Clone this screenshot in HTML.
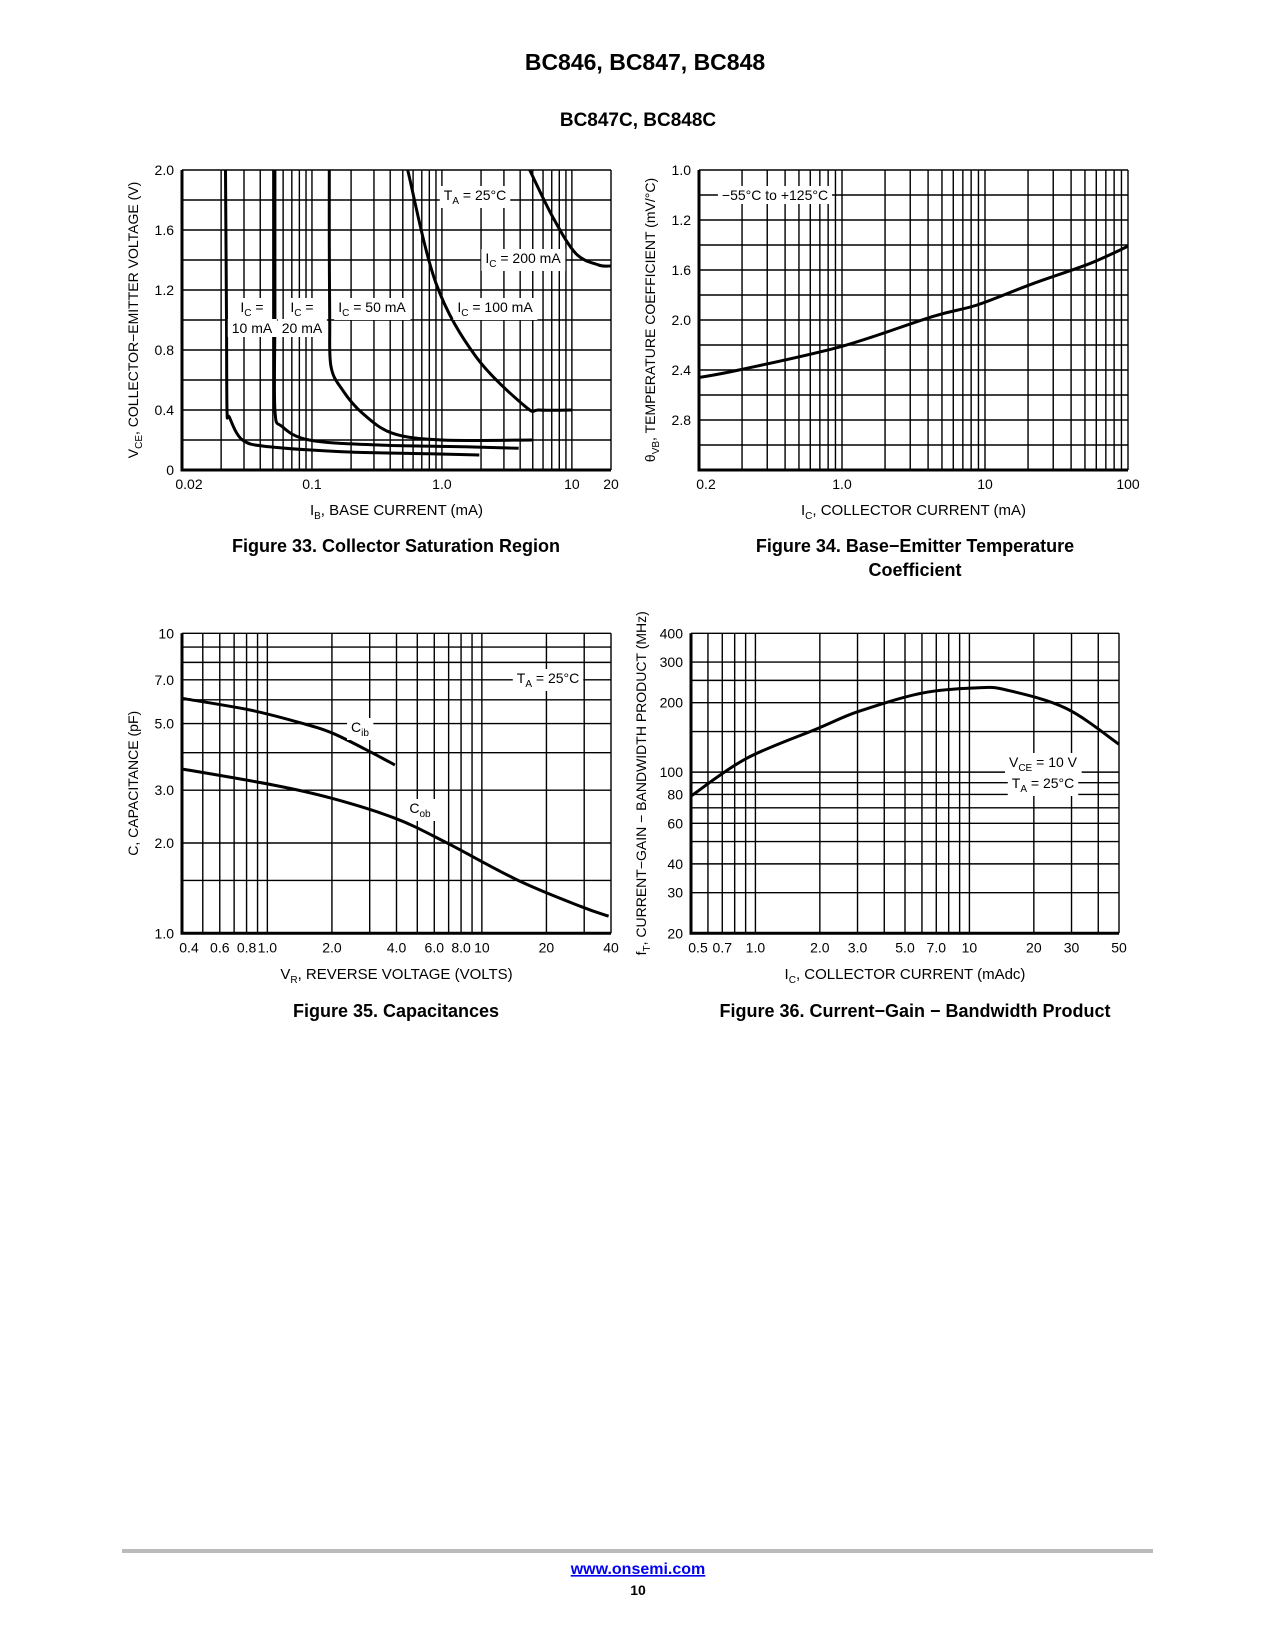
<!DOCTYPE html>
<html><head><meta charset="utf-8"><style>
html,body{margin:0;padding:0;background:#fff;}
svg{display:block;font-family:"Liberation Sans",sans-serif;}
.n{font-family:"Liberation Sans Narrow","Liberation Sans",sans-serif;}
</style></head><body>
<svg id="page" width="1275" height="1650" viewBox="0 0 1275 1650" xmlns="http://www.w3.org/2000/svg">
<text x="645" y="70" font-size="23" font-weight="bold" text-anchor="middle">BC846, BC847, BC848</text>
<text x="638" y="126" font-size="19" font-weight="bold" text-anchor="middle">BC847C, BC848C</text>
<text x="396" y="552" font-size="18" font-weight="bold" text-anchor="middle">Figure 33. Collector Saturation Region</text>
<text x="915" y="552" font-size="18" font-weight="bold" text-anchor="middle">Figure 34. Base−Emitter Temperature</text>
<text x="915" y="576" font-size="18" font-weight="bold" text-anchor="middle">Coefficient</text>
<text x="396" y="1017" font-size="18" font-weight="bold" text-anchor="middle">Figure 35. Capacitances</text>
<text x="915" y="1017" font-size="18" font-weight="bold" text-anchor="middle">Figure 36. Current−Gain − Bandwidth Product</text>
<rect x="122" y="1549" width="1031" height="4" fill="#bbb"/>
<a><text x="638" y="1574" font-size="16" font-weight="bold" fill="#0000ee" text-anchor="middle" text-decoration="underline">www.onsemi.com</text></a>
<text x="638" y="1595" font-size="14" font-weight="bold" text-anchor="middle">10</text>
</svg>
<script>
// ---------- Chart 1 data (IB mA vs VCE V) ----------
const c1_10x=[0.0216,0.0218,0.022,0.0222,0.0231,0.0292,0.047,0.171,0.8,1.94];
const c1_10y=[2.0,1.5,1.0,0.4,0.353,0.2,0.155,0.122,0.108,0.1];
const c1_20x=[0.0519,0.0519,0.0519,0.0519,0.059,0.095,0.31,1.5,3.9];
const c1_20y=[2.0,1.5,1.0,0.4,0.289,0.2,0.167,0.155,0.145];
const c1_50x=[0.136,0.136,0.137,0.14,0.172,0.245,0.417,1.0,4.93];
const c1_50y=[2.0,1.5,1.0,0.69,0.533,0.378,0.245,0.2,0.2];
const c1_100x=[0.545,0.9,1.83,4.4,5.6,10];
const c1_100y=[2.0,1.245,0.755,0.422,0.4,0.4];
const c1_200x=[4.74,7.1,10.7,16,20];
const c1_200y=[2.0,1.689,1.444,1.367,1.36];
const c1_xtickVals=[0.01,0.1,1,10,20];
const c1_xtickText=["0.02","0.1","1.0","10","20"];
const c1_ytickVals=[0,0.4,0.8,1.2,1.6,2.0];
const c1_ytickText=["0","0.4","0.8","1.2","1.6","2.0"];
// ---------- Chart 2 data ----------
const c2_x=[0.1,0.19,1.0,4.36,8.8,21.5,53.5,100];
const c2_y=[2.46,2.4,2.21,1.97,1.88,1.71,1.55,1.41];
const c2_xtickVals=[0.1,1,10,100];
const c2_xtickText=["0.2","1.0","10","100"];
const c2_ytickVals=[0.8,1.2,1.6,2.0,2.4,2.8];
const c2_ytickText=["1.0","1.2","1.6","2.0","2.4","2.8"];
// ---------- Chart 3 data ----------
const c3_cibx=[0.4,0.83,1.47,2.02,3.01,3.93];
const c3_ciby=[6.07,5.55,5.0,4.64,4.03,3.64];
const c3_cobx=[0.4,1.07,1.99,3.93,6.7,14.8,28.8,39];
const c3_coby=[3.53,3.12,2.82,2.42,2.02,1.5,1.23,1.14];
const c3_xtickVals=[0.4,0.6,0.8,1,2,4,6,8,10,20,40];
const c3_xtickText=["0.4","0.6","0.8","1.0","2.0","4.0","6.0","8.0","10","20","40"];
const c3_ytickVals=[1,2,3,5,7,10];
const c3_ytickText=["1.0","2.0","3.0","5.0","7.0","10"];
const c3_hgrid=[1,1.5,2,3,4,5,6,7,8,9,10];
// ---------- Chart 4 data ----------
const c4_x=[0.5,0.91,1.97,3.02,5.98,10.8,14.9,28.3,50];
const c4_y=[78.7,114.8,155,183,220,232,227,189,132];
const c4_xtickVals=[0.5,0.7,1,2,3,5,7,10,20,30,50];
const c4_xtickText=["0.5","0.7","1.0","2.0","3.0","5.0","7.0","10","20","30","50"];
const c4_ytickVals=[20,30,40,60,80,100,200,300,400];
const c4_ytickText=["20","30","40","60","80","100","200","300","400"];
const c4_hgrid=[20,30,40,50,60,70,80,90,100,150,200,250,300,400];

const NS="http://www.w3.org/2000/svg";
const page=document.getElementById('page');
function mk(tag,attrs,parent){const e=document.createElementNS(NS,tag);for(const k in attrs)e.setAttribute(k,attrs[k]);(parent||page).appendChild(e);return e;}
function logS(d0,d1,p0,p1){const a=Math.log10(d0),b=Math.log10(d1);return v=>p0+(Math.log10(v)-a)/(b-a)*(p1-p0);}
function linS(d0,d1,p0,p1){return v=>p0+(v-d0)/(d1-d0)*(p1-p0);}
function logMinor(d0,d1){const r=[];for(let e=-3;e<4;e++){for(let m=1;m<10;m++){const v=m*Math.pow(10,e);if(v>=d0*0.999&&v<=d1*1.001)r.push(v);}}return r;}
function crPath(pts){let d="M"+pts[0][0].toFixed(1)+","+pts[0][1].toFixed(1);for(let i=0;i<pts.length-1;i++){const p0=pts[i-1]||pts[i],p1=pts[i],p2=pts[i+1],p3=pts[i+2]||p2;const c1=[p1[0]+(p2[0]-p0[0])/6,p1[1]+(p2[1]-p0[1])/6],c2=[p2[0]-(p3[0]-p1[0])/6,p2[1]-(p3[1]-p1[1])/6];d+="C"+c1[0].toFixed(1)+","+c1[1].toFixed(1)+" "+c2[0].toFixed(1)+","+c2[1].toFixed(1)+" "+p2[0].toFixed(1)+","+p2[1].toFixed(1);}return d;}

function chart(cfg){
  const g=mk('g',{});
  
  
  const {L,R,T,B,sx,sy}=cfg;
  const gg=mk('g',{stroke:'#000','stroke-width':1.4},g);
  
  
  cfg.vgrid.forEach(v=>{const x=sx(v);const l=mk('line',{x1:x,x2:x,y1:T,y2:B},gg);
    
    });
  cfg.hgrid.forEach(v=>{const y=sy(v);const l=mk('line',{x1:L,x2:R,y1:y,y2:y},gg);
    
    });
  const ax=mk('path',{d:`M${L},${T}V${B}H${R}`,fill:'none',stroke:'#000','stroke-width':3},g);
  
  
  cfg.xtv.forEach((v,i)=>{const t=mk('text',{x:sx(v)+(i===0?7:0),y:B+19,'font-size':14,'text-anchor':'middle',class:'n'},g);t.textContent=cfg.xtt[i];
    
    });
  cfg.ytv.forEach((v,i)=>{const t=mk('text',{x:L-8,y:sy(v)+5,'font-size':14,'text-anchor':'end',class:'n'},g);t.textContent=cfg.ytt[i];
    
    });
  const xt=mk('text',{x:(L+R)/2,y:cfg.xTitleY,'font-size':15,'text-anchor':'middle'},g);xt.innerHTML=cfg.xTitle;
  
  
  const yt=mk('text',{x:0,y:0,'font-size':14,'text-anchor':'middle',class:'n',transform:`translate(${cfg.yTitleX},${(T+B)/2}) rotate(-90)`},g);yt.innerHTML=cfg.yTitle;
  
  
  cfg.series.forEach(s=>{const pts=s.x.map((v,i)=>[sx(v),sy(s.y[i])]);const p=mk('path',{d:crPath(pts),fill:'none',stroke:'#000','stroke-width':3,'stroke-linejoin':'round'},g);
    
    });
  cfg.labels.forEach(lb=>{const bg=mk('rect',{fill:'#fff'},g);const t=mk('text',{x:lb.x,y:lb.y,'font-size':14,'text-anchor':'middle',class:'n'},g);t.innerHTML=lb.h;
    
    
    
    
    const b=t.getBBox();bg.setAttribute('x',b.x-4);bg.setAttribute('y',b.y-1);bg.setAttribute('width',b.width+8);bg.setAttribute('height',b.height+2);});
}
const sub=(a,s,b)=>`${a}<tspan font-size="10" dy="4">${s}</tspan><tspan dy="-4">${b}</tspan>`;

// Chart 1
(function(){const L=182,R=611,T=170,B=470;const sx=logS(0.01,20,L,R),sy=linS(0,2,B,T);
 chart({name:'collector-saturation-chart',L,R,T,B,sx,sy,vgrid:logMinor(0.01,20),hgrid:[0,0.2,0.4,0.6,0.8,1.0,1.2,1.4,1.6,1.8,2.0],
 xtv:c1_xtickVals,xtt:c1_xtickText,ytv:c1_ytickVals,ytt:c1_ytickText,xTitleY:515,xTitle:sub('I','B',', BASE CURRENT (mA)'),
 yTitleX:138,yTitle:sub('V','CE',', COLLECTOR−EMITTER VOLTAGE (V)'),
 series:[{name:'ic-10ma-curve',x:c1_10x,y:c1_10y},{name:'ic-20ma-curve',x:c1_20x,y:c1_20y},{name:'ic-50ma-curve',x:c1_50x,y:c1_50y},{name:'ic-100ma-curve',x:c1_100x,y:c1_100y},{name:'ic-200ma-curve',x:c1_200x,y:c1_200y}],
 labels:[{name:'ta-label',x:475,y:200,h:sub('T','A',' = 25°C')},{name:'ic-200ma-label',x:523,y:263,h:sub('I','C',' = 200 mA')},{name:'ic-100ma-label',x:495,y:312,h:sub('I','C',' = 100 mA')},{name:'ic-50ma-label',x:372,y:312,h:sub('I','C',' = 50 mA')},{name:'ic-10ma-label',x:252,y:312,h:sub('I','C',' =')},{name:'ic-10ma-label-2',x:252,y:333,h:'10 mA'},{name:'ic-20ma-label',x:302,y:312,h:sub('I','C',' =')},{name:'ic-20ma-label-2',x:302,y:333,h:'20 mA'}]});})();
// Chart 2
(function(){const L=699,R=1128,T=170,B=470;const sx=logS(0.1,100,L,R),sy=linS(0.8,3.2,T,B);
 const hg=[];for(let v=0.8;v<=3.21;v+=0.2)hg.push(+v.toFixed(1));
 chart({name:'temperature-coefficient-chart',L,R,T,B,sx,sy,vgrid:logMinor(0.1,100),hgrid:hg,
 xtv:c2_xtickVals,xtt:c2_xtickText,ytv:c2_ytickVals,ytt:c2_ytickText,xTitleY:515,xTitle:sub('I','C',', COLLECTOR CURRENT (mA)'),
 yTitleX:655,yTitle:sub('θ','VB',', TEMPERATURE COEFFICIENT (mV/°C)'),
 series:[{name:'theta-vb-curve',x:c2_x,y:c2_y}],
 labels:[{name:'temperature-range-label',x:775,y:200,h:'−55°C to +125°C'}]});})();
// Chart 3
(function(){const L=182,R=611,T=633.3,B=933.3;const sx=logS(0.4,40,L,R),sy=logS(1,10,B,T);
 chart({name:'capacitance-chart',L,R,T,B,sx,sy,vgrid:logMinor(0.4,40),hgrid:c3_hgrid,
 xtv:c3_xtickVals,xtt:c3_xtickText,ytv:c3_ytickVals,ytt:c3_ytickText,xTitleY:979,xTitle:sub('V','R',', REVERSE VOLTAGE (VOLTS)'),
 yTitleX:138,yTitle:'C, CAPACITANCE (pF)',
 series:[{name:'cib-curve',x:c3_cibx,y:c3_ciby},{name:'cob-curve',x:c3_cobx,y:c3_coby}],
 labels:[{name:'ta-label',x:548,y:683,h:sub('T','A',' = 25°C')},{name:'cib-label',x:360,y:732,h:sub('C','ib','')},{name:'cob-label',x:420,y:813,h:sub('C','ob','')}]});})();
// Chart 4
(function(){const L=691,R=1119,T=633.3,B=933.3;const sx=logS(0.5,50,L,R),sy=logS(20,400,B,T);
 chart({name:'bandwidth-product-chart',L,R,T,B,sx,sy,vgrid:logMinor(0.5,50),hgrid:c4_hgrid,
 xtv:c4_xtickVals,xtt:c4_xtickText,ytv:c4_ytickVals,ytt:c4_ytickText,xTitleY:979,xTitle:sub('I','C',', COLLECTOR CURRENT (mAdc)'),
 yTitleX:646,yTitle:sub('f','T',', CURRENT−GAIN − BANDWIDTH PRODUCT (MHz)'),
 series:[{name:'ft-curve',x:c4_x,y:c4_y}],
 labels:[{name:'vce-label',x:1043,y:767,h:sub('V','CE',' = 10 V')},{name:'ta-label',x:1043,y:788,h:sub('T','A',' = 25°C')}]});})();
</script>
</body></html>
